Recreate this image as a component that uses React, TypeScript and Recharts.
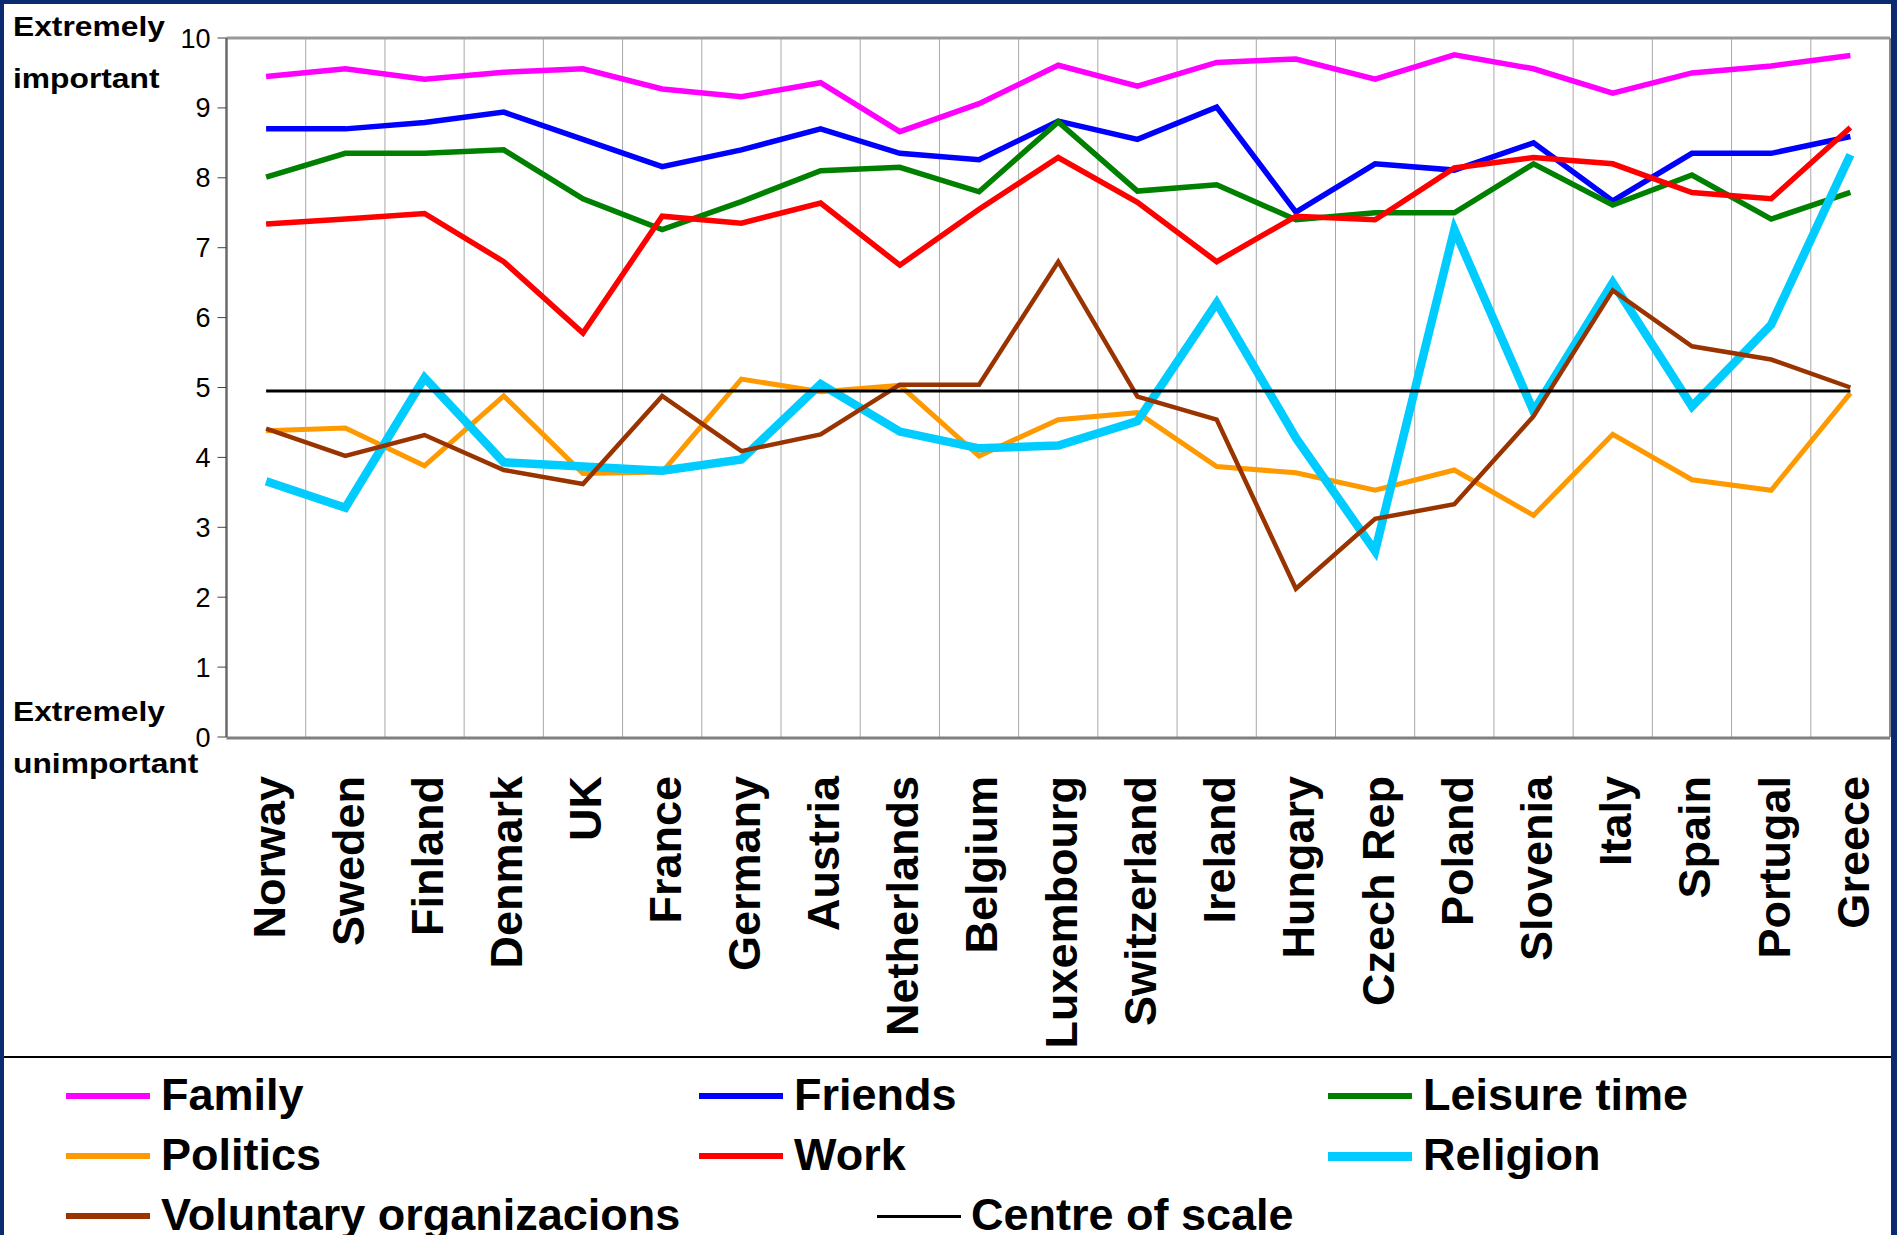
import React from 'react';
import { LineChart, Line, XAxis, YAxis, ReferenceLine } from 'recharts';

// Importance of life domains by country (0 = extremely unimportant, 10 = extremely important)
const countries = [
  'Norway', 'Sweden', 'Finland', 'Denmark', 'UK', 'France', 'Germany', 'Austria',
  'Netherlands', 'Belgium', 'Luxembourg', 'Switzerland', 'Ireland', 'Hungary',
  'Czech Rep', 'Poland', 'Slovenia', 'Italy', 'Spain', 'Portugal', 'Greece',
];

const family = [9.45, 9.56, 9.41, 9.51, 9.56, 9.27, 9.16, 9.36, 8.66, 9.06, 9.61, 9.31, 9.65, 9.7, 9.41, 9.76, 9.56, 9.21, 9.5, 9.6, 9.75];
const friends = [8.7, 8.7, 8.79, 8.94, 8.55, 8.16, 8.4, 8.7, 8.35, 8.26, 8.81, 8.55, 9.01, 7.51, 8.2, 8.11, 8.5, 7.67, 8.35, 8.35, 8.59];
const leisure = [8.01, 8.35, 8.35, 8.4, 7.7, 7.26, 7.66, 8.1, 8.15, 7.8, 8.8, 7.81, 7.9, 7.4, 7.5, 7.5, 8.2, 7.61, 8.04, 7.41, 7.79];
const politics = [4.38, 4.42, 3.88, 4.88, 3.77, 3.79, 5.12, 4.94, 5.03, 4.02, 4.54, 4.64, 3.87, 3.78, 3.53, 3.82, 3.17, 4.33, 3.68, 3.53, 4.92];
const work = [7.34, 7.41, 7.49, 6.8, 5.78, 7.45, 7.35, 7.64, 6.75, 7.55, 8.29, 7.65, 6.8, 7.45, 7.4, 8.14, 8.29, 8.2, 7.79, 7.7, 8.72];
const religion = [3.66, 3.28, 5.14, 3.93, 3.87, 3.81, 3.97, 5.05, 4.37, 4.13, 4.17, 4.52, 6.21, 4.28, 2.66, 7.26, 4.66, 6.5, 4.73, 5.9, 8.33];
const voluntary = [4.41, 4.02, 4.32, 3.82, 3.62, 4.88, 4.09, 4.33, 5.04, 5.04, 6.8, 4.87, 4.54, 2.12, 3.12, 3.33, 4.59, 6.39, 5.59, 5.4, 5.0];
const centre = [4.95, 4.95, 4.95, 4.95, 4.95, 4.95, 4.95, 4.95, 4.95, 4.95, 4.95, 4.95, 4.95, 4.95, 4.95, 4.95, 4.95, 4.95, 4.95, 4.95, 4.95];

const yTicks = [0, 1, 2, 3, 4, 5, 6, 7, 8, 9, 10];

const series = [
  { key: 'family', name: 'Family', color: '#FF00FF', width: 5.5, legendWidth: 6, values: family },
  { key: 'friends', name: 'Friends', color: '#0000FF', width: 5.5, legendWidth: 6, values: friends },
  { key: 'leisure', name: 'Leisure time', color: '#008000', width: 5.5, legendWidth: 6, values: leisure },
  { key: 'politics', name: 'Politics', color: '#FF9900', width: 5, legendWidth: 6, values: politics },
  { key: 'work', name: 'Work', color: '#FF0000', width: 5.5, legendWidth: 6, values: work },
  { key: 'religion', name: 'Religion', color: '#00CCFF', width: 8.5, legendWidth: 9, values: religion },
  { key: 'voluntary', name: 'Voluntary organizacions', color: '#993300', width: 4.5, legendWidth: 6, values: voluntary },
  { key: 'centre', name: 'Centre of scale', color: '#000000', width: 3, legendWidth: 3, values: centre },
];

const data = countries.map((country, i) => {
  const row: Record<string, number | string> = { idx: i, country };
  series.forEach((s) => {
    row[s.key] = s.values[i];
  });
  return row;
});

// category positions and the boundaries between neighbouring categories
const catTicks = countries.map((_, i) => i);
const edgeTicks = [...countries.map((_, i) => i - 0.5), countries.length - 0.5];
const innerEdges = edgeTicks.slice(1, -1);
const domain: [number, number] = [-0.5, countries.length - 0.5];

const FONT = '"Liberation Sans", Arial, Helvetica, sans-serif';

const CountryTick = (props: any) => {
  const { x, y, payload } = props;
  return (
    <text
      x={x}
      y={y}
      dy="0.41em"
      transform={`rotate(-90, ${x}, ${y})`}
      textAnchor="end"
      fontSize={45}
      fontWeight="bold"
      fill="#000"
      fontFamily={FONT}
    >
      {countries[payload.value]}
    </text>
  );
};

// legend slots: row, left edge of the line sample
const legendSlots = [
  { row: 0, left: 66 },
  { row: 0, left: 699 },
  { row: 0, left: 1328 },
  { row: 1, left: 66 },
  { row: 1, left: 699 },
  { row: 1, left: 1328 },
  { row: 2, left: 66 },
  { row: 2, left: 877 },
];

const sideLabel: React.CSSProperties = {
  position: 'absolute',
  left: 13,
  fontFamily: FONT,
  fontWeight: 'bold',
  fontSize: 28,
  lineHeight: '52px',
  color: '#000',
  transform: 'scaleX(1.135)',
  transformOrigin: 'left center',
  whiteSpace: 'nowrap',
};

export default function App() {
  return (
    <div
      style={{
        position: 'absolute',
        left: 0,
        top: 0,
        width: 1897,
        height: 1235,
        overflow: 'hidden',
        background: '#0b2a6f',
      }}
    >
      <div style={{ position: 'absolute', left: 4, top: 4, width: 1887, height: 1240, background: '#fff' }} />

      <div style={{ position: 'absolute', left: 0, top: 0 }}>
        <LineChart
          width={1897}
          height={1056}
          data={data}
          margin={{ top: 38, right: 7, bottom: 317, left: 166.5 }}
          style={{ fontFamily: FONT }}
        >
          <XAxis
            xAxisId="edge"
            type="number"
            dataKey="idx"
            domain={domain}
            ticks={edgeTicks}
            interval={0}
            height={1}
            tick={false}
            tickSize={13}
            tickLine={{ stroke: '#222', strokeWidth: 1 }}
            axisLine={{ stroke: '#808080', strokeWidth: 3 }}
            allowDataOverflow
          />
          <XAxis
            xAxisId="cat"
            type="number"
            dataKey="idx"
            domain={domain}
            ticks={catTicks}
            interval={0}
            height={1}
            tickSize={0}
            tickMargin={39}
            tickLine={false}
            axisLine={false}
            tick={<CountryTick />}
            allowDataOverflow
          />
          <YAxis
            type="number"
            domain={[0, 10]}
            ticks={yTicks}
            interval={0}
            width={60}
            tickSize={9}
            tickMargin={7}
            tick={{ fontSize: 27, fill: '#000', fontFamily: FONT }}
            tickLine={{ stroke: '#444', strokeWidth: 1 }}
            axisLine={{ stroke: '#6a6a6a', strokeWidth: 2.5 }}
            allowDataOverflow
          />
          {innerEdges.map((v) => (
            <ReferenceLine key={v} xAxisId="cat" x={v} stroke="#a8a8a8" strokeWidth={1} />
          ))}
          <ReferenceLine xAxisId="cat" y={10} stroke="#999999" strokeWidth={3} />
          <ReferenceLine xAxisId="cat" x={countries.length - 0.5} stroke="#8a8a8a" strokeWidth={2} />
          {series.map((s) => (
            <Line
              key={s.key}
              xAxisId="cat"
              type="linear"
              dataKey={s.key}
              name={s.name}
              stroke={s.color}
              strokeWidth={s.width}
              dot={false}
              activeDot={false}
              isAnimationActive={false}
            />
          ))}
        </LineChart>
      </div>

      <div style={{ ...sideLabel, top: 1 }}>
        Extremely
        <br />
        important
      </div>
      <div style={{ ...sideLabel, top: 686 }}>
        Extremely
        <br />
        unimportant
      </div>

      <div style={{ position: 'absolute', left: 4, top: 1056, width: 1887, height: 2, background: '#000' }} />

      {series.map((s, i) => {
        const slot = legendSlots[i];
        return (
          <div
            key={s.key}
            style={{
              position: 'absolute',
              left: slot.left,
              top: 1071.5 + slot.row * 60,
              height: 45,
              display: 'flex',
              alignItems: 'center',
              whiteSpace: 'nowrap',
            }}
          >
            <div style={{ width: 84, height: s.legendWidth, background: s.color, marginTop: 4 }} />
            <span
              style={{
                marginLeft: s.key === 'centre' ? 10 : 11,
                fontFamily: FONT,
                fontWeight: 'bold',
                fontSize: 45,
                lineHeight: '45px',
                color: '#000',
              }}
            >
              {s.name}
            </span>
          </div>
        );
      })}
    </div>
  );
}
